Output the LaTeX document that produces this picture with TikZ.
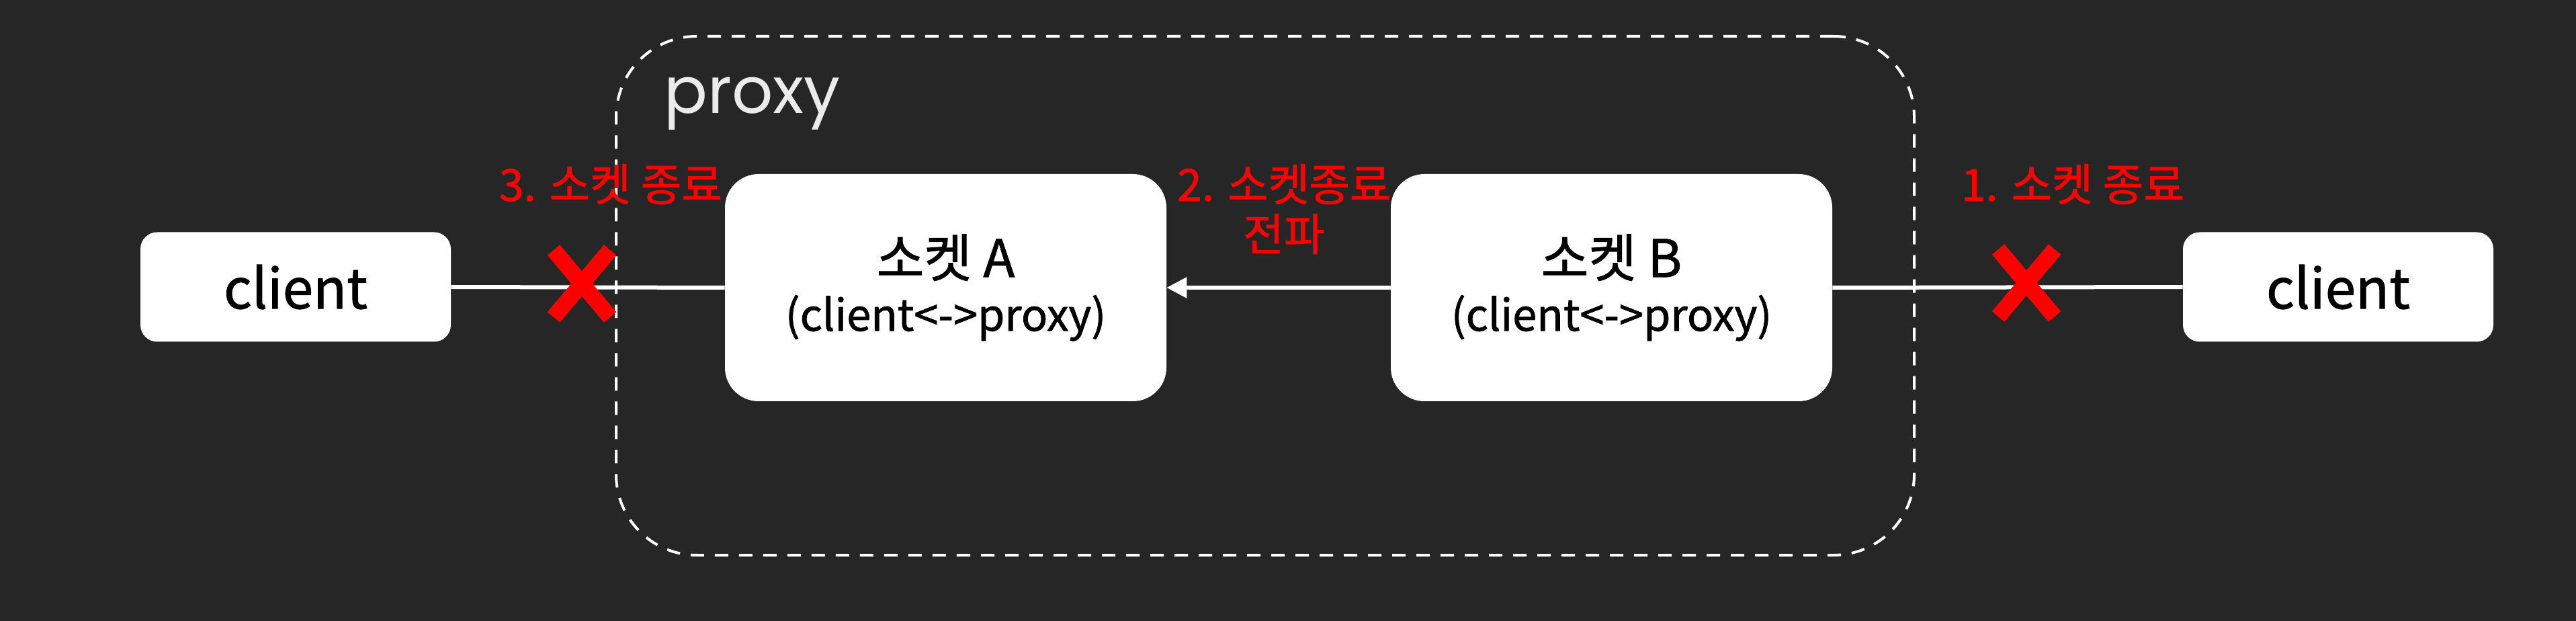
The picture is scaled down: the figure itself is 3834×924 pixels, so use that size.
\documentclass[tikz,border=0pt]{standalone}
\usepackage{fontspec}
\setmainfont{Noto Sans CJK KR}
\newfontfamily\boxfont{Noto Sans CJK KR}[FakeBold=1.2]
\newfontfamily\popfont{Poppins}
\usetikzlibrary{arrows.meta}
\definecolor{bgc}{HTML}{262626}
\definecolor{lbl}{HTML}{FF0000}
\definecolor{prx}{HTML}{EBEBEB}
\begin{document}
\begin{tikzpicture}[x=0.5pt,y=-0.5pt,
  clientbox/.style={fill=white, rounded corners=12.5pt, minimum width=231pt, minimum height=81.5pt, inner sep=0pt, text=black, font=\boxfont\fontsize{41}{48}\selectfont},
  sockbox/.style={fill=white, rounded corners=25pt, minimum width=328.5pt, minimum height=169pt, inner sep=0pt, text=black, align=center, font=\boxfont\fontsize{38.5}{40}\selectfont},
  proxybox/.style={draw=white, line width=2pt, dash pattern=on 10pt off 8pt, rounded corners=60pt, minimum width=966pt, minimum height=386pt, inner sep=0pt},
  note/.style={text=lbl, inner sep=0pt, align=center, anchor=north, font=\boxfont\fontsize{33}{37}\selectfont},
  link/.style={draw=white, line width=3pt},
  xmark/.style={draw=lbl, line width=12pt},
]
\useasboundingbox (0,0) rectangle (3834,924);
\fill[bgc] (0,0) rectangle (3834,924);

% proxy container
\node[proxybox] (proxy) at (1883,440) {};
\node[anchor=base west, inner sep=0pt, text=prx, font=\popfont\fontsize{48}{54}\selectfont] (plabel) at (988,169) {proxy};

% nodes
\node[clientbox] (cl) at (440,427) {client};
\node[clientbox] (cr) at (3480,427) {client};
\node[sockbox] (sa) at (1407.5,428) {소켓 A\\{\fontsize{32.5}{36}\selectfont (client<->proxy)}};
\node[sockbox] (sb) at (2398.5,428) {소켓 B\\{\fontsize{32.5}{36}\selectfont (client<->proxy)}};

% connectors
\draw[link] (cl.east) -- (sa.west);
\draw[link, -{Triangle[length=15pt,width=15pt]}] (sb.west) -- (sa.east);
\draw[link] (sb.east) -- (cr.west);

% labels
\node[note] (n3) at (909,244) {3. 소켓 종료};
\node[note] (n2) at (1911,244) {2. 소켓종료\\전파};
\node[note] (n1) at (3085,244) {1. 소켓 종료};

% cross marks
\coordinate (xa) at (866,422);
\coordinate (xb) at (3016,421);
\draw[xmark, shift={(xa)}] (-42,-50) -- (42,50) (-42,50) -- (42,-50);
\draw[xmark, shift={(xb)}] (-42,-50) -- (42,50) (-42,50) -- (42,-50);
\end{tikzpicture}
\end{document}
